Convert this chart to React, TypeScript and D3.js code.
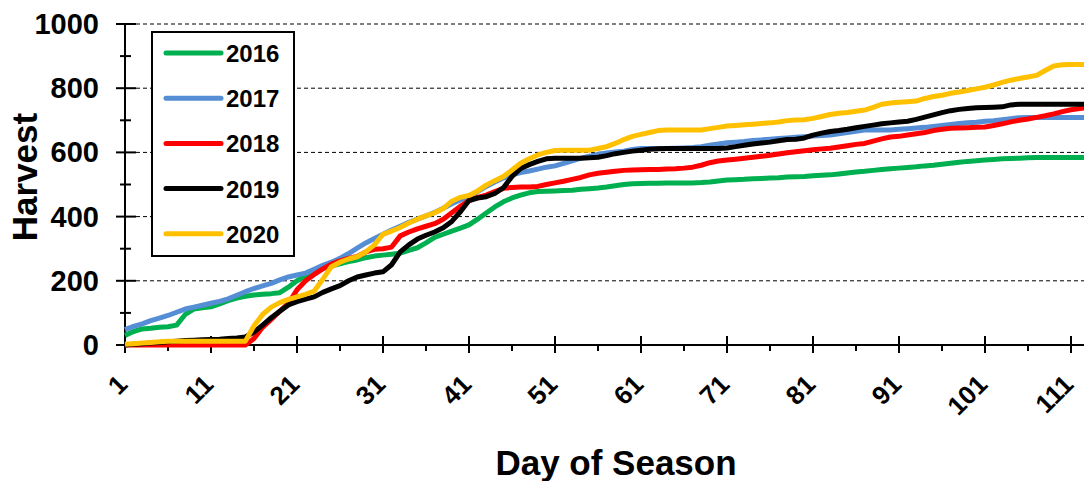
import { useEffect, useRef } from 'react'
import * as d3 from 'd3'

const W = 1084
const H = 481

const yearNames = ['2016', '2017', '2018', '2019', '2020']
const yearColors = ['#00B050', '#558ED5', '#FF0000', '#000000', '#FFC000']

const xMajorTicks = [1, 11, 21, 31, 41, 51, 61, 71, 81, 91, 101, 111]
const xMinorTicks = [6, 16, 26, 36, 46, 56, 66, 76, 86, 96, 106]
const yMajorTicks = [0, 200, 400, 600, 800, 1000]
const yMinorTicks = [100, 300, 500, 700, 900]

// cumulative harvest per day, days 1..113
const h2016 = [
  30, 42, 50, 52, 55, 57, 62, 95, 112, 116, 119, 128, 138, 146, 152, 156, 158, 160, 163, 180,
  200, 215, 228, 239, 246, 253, 260, 265, 272, 277, 280, 283, 286, 295, 303, 318, 335, 345, 355, 364,
  374, 392, 411, 430, 446, 458, 467, 474, 478, 479, 480, 481, 482, 485, 487, 489, 492, 496, 500, 502,
  503, 504, 504, 505, 505, 505, 505, 506, 508, 511, 514, 515, 516, 518, 519, 520, 521, 523, 524, 525,
  527, 529, 530, 533, 536, 539, 541, 544, 547, 549, 551, 553, 555, 558, 560, 563, 566, 569, 572, 574,
  576, 578, 580, 581, 582, 583, 584, 584, 584, 584, 584, 584, 584,
]
const h2017 = [
  48, 58, 66, 76, 84, 92, 102, 112, 118, 124, 130, 136, 144, 155, 166, 176, 184, 192, 203, 212,
  218, 224, 236, 248, 258, 270, 285, 302, 318, 332, 345, 358, 370, 382, 392, 402, 413, 426, 440, 452,
  462, 478, 494, 508, 520, 530, 537, 542, 548, 554, 558, 566, 574, 582, 588, 594, 598, 601, 604, 609,
  612, 612, 612, 612, 613, 614, 615, 618, 622, 626, 630, 632, 634, 637, 639, 641, 643, 645, 647, 649,
  651, 653, 654, 658, 662, 666, 670, 670, 670, 670, 672, 674, 676, 678, 681, 684, 687, 690, 692, 694,
  697, 699, 702, 705, 708, 709, 709, 709, 709, 709, 709, 709, 709,
]
const h2018 = [
  0, 0, 0, 0, 0, 0, 0, 0, 0, 0, 0, 0, 0, 0, 0, 20, 55, 80, 105, 130,
  172, 200, 220, 237, 252, 262, 270, 276, 290, 298, 300, 305, 340, 352, 362, 370, 378, 392, 412, 432,
  450, 460, 467, 478, 488, 491, 492, 492, 494, 500, 505, 510, 516, 522, 530, 535, 538, 541, 544, 545,
  546, 547, 547, 548, 549, 551, 554, 560, 568, 573, 576, 579, 582, 585, 588, 591, 595, 599, 602, 605,
  608, 611, 613, 617, 621, 625, 628, 635, 642, 648, 650, 654, 658, 662, 668, 672, 675, 676, 677, 678,
  679, 684, 689, 695, 700, 704, 709, 714, 720, 727, 733, 737, 740,
]
const h2019 = [
  0, 2, 4, 6, 8, 10, 12, 14, 15, 16, 17, 18, 20, 22, 25, 40, 62, 85, 105, 125,
  135, 143, 150, 164, 175, 185, 200, 212, 218, 224, 228, 250, 290, 312, 330, 342, 352, 365, 385, 415,
  450, 458, 462, 472, 490, 525, 550, 562, 572, 580, 582, 582, 582, 582, 583, 585, 590, 596, 600, 604,
  607, 610, 611, 612, 612, 612, 612, 612, 612, 612, 614, 618, 622, 626, 629, 632, 636, 640, 641, 645,
  654, 660, 665, 668, 672, 677, 681, 685, 689, 692, 695, 697, 703, 710, 717, 724, 730, 734, 737, 739,
  740, 741, 742, 748, 750, 750, 750, 750, 750, 750, 750, 750, 750,
]
const h2020 = [
  2, 4, 6, 8, 10, 12, 12, 12, 12, 12, 12, 12, 12, 12, 12, 60, 95, 118, 132, 142,
  150, 158, 168, 205, 244, 258, 268, 275, 290, 312, 345, 355, 366, 380, 392, 402, 412, 425, 448, 460,
  466, 480, 498, 512, 525, 545, 566, 580, 592, 600, 606, 607, 607, 607, 607, 612, 618, 628, 640, 650,
  656, 662, 668, 670, 670, 670, 670, 670, 674, 678, 682, 684, 686, 688, 690, 692, 695, 699, 701, 702,
  706, 712, 718, 722, 724, 728, 732, 740, 750, 754, 756, 758, 760, 768, 774, 778, 784, 788, 793, 798,
  803, 810, 818, 825, 830, 835, 840, 855, 869, 873, 874, 874, 874,
]
const seriesValues = [h2016, h2017, h2018, h2019, h2020]

const font = '"Liberation Sans", Arial, sans-serif'

export default function App() {
  const ref = useRef<SVGSVGElement | null>(null)
  useEffect(() => {
    const svg = d3.select(ref.current)
    svg.selectAll('*').remove()

    const margin = { top: 24, right: 0, bottom: 136, left: 125 }
    const innerH = H - margin.top - margin.bottom
    const x = d3.scaleLinear().domain([1, 111]).range([margin.left, 1071])
    const y = d3.scaleLinear().domain([0, 1000]).range([margin.top + innerH, margin.top])
    const y0 = y(0)

    // gridlines
    svg.append('g')
      .selectAll('line')
      .data(yMajorTicks.filter((d) => d > 0))
      .enter()
      .append('line')
      .attr('x1', x(1) + 11)
      .attr('x2', W)
      .attr('y1', (d) => y(d))
      .attr('y2', (d) => y(d))
      .attr('stroke', '#000')
      .attr('stroke-width', 1)
      .attr('stroke-dasharray', '4,3')

    // y axis
    const ya = svg.append('g')
    ya.append('line').attr('x1', x(1)).attr('x2', x(1)).attr('y1', y(1000)).attr('y2', y0).attr('stroke', '#000').attr('stroke-width', 2)
    ya.selectAll('.maj').data(yMajorTicks).enter().append('line')
      .attr('x1', x(1) - 9).attr('x2', x(1) + 11).attr('y1', (d) => y(d)).attr('y2', (d) => y(d))
      .attr('stroke', '#000').attr('stroke-width', 2)
    ya.selectAll('.min').data(yMinorTicks).enter().append('line')
      .attr('x1', x(1) - 5).attr('x2', x(1) + 6).attr('y1', (d) => y(d)).attr('y2', (d) => y(d))
      .attr('stroke', '#000').attr('stroke-width', 2)
    ya.selectAll('text').data(yMajorTicks).enter().append('text')
      .attr('x', 99).attr('y', (d) => y(d) + 10)
      .attr('text-anchor', 'end')
      .attr('font-family', font).attr('font-weight', 'bold').attr('font-size', 29)
      .text((d) => String(d))

    // x axis
    const xa = svg.append('g')
    xa.append('line').attr('x1', x(1) - 8).attr('x2', W).attr('y1', y0).attr('y2', y0).attr('stroke', '#000').attr('stroke-width', 2)
    xa.selectAll('.maj').data(xMajorTicks).enter().append('line')
      .attr('x1', (d) => x(d)).attr('x2', (d) => x(d)).attr('y1', y0 - 9).attr('y2', y0 + 8)
      .attr('stroke', '#000').attr('stroke-width', 2)
    xa.selectAll('.min').data(xMinorTicks).enter().append('line')
      .attr('x1', (d) => x(d)).attr('x2', (d) => x(d)).attr('y1', y0).attr('y2', y0 + 6)
      .attr('stroke', '#000').attr('stroke-width', 2)
    xa.selectAll('text').data(xMajorTicks).enter().append('text')
      .attr('transform', (d) => `translate(${x(d) + 4},${y0 + 41}) rotate(-45)`)
      .attr('text-anchor', 'end')
      .attr('font-family', font).attr('font-weight', 'bold').attr('font-size', 26)
      .text((d) => String(d))

    // axis titles
    svg.append('text')
      .attr('transform', `translate(37,177) rotate(-90)`)
      .attr('text-anchor', 'middle')
      .attr('font-family', font).attr('font-weight', 'bold').attr('font-size', 35)
      .text('Harvest')
    svg.append('text')
      .attr('x', 616).attr('y', 475)
      .attr('text-anchor', 'middle')
      .attr('font-family', font).attr('font-weight', 'bold').attr('font-size', 35)
      .text('Day of Season')

    // lines
    const lineGen = d3.line<number>()
      .x((_, i) => x(i + 1))
      .y((d) => y(d))
    seriesValues.forEach((vals, i) => {
      svg.append('path')
        .datum(vals)
        .attr('fill', 'none')
        .attr('stroke', yearColors[i])
        .attr('stroke-width', 5)
        .attr('stroke-linejoin', 'round')
        .attr('d', lineGen as any)
    })

    // legend
    const lg = svg.append('g')
    lg.append('rect').attr('x', 152).attr('y', 32).attr('width', 142).attr('height', 224)
      .attr('fill', '#fff').attr('stroke', '#000').attr('stroke-width', 2)
    yearNames.forEach((name, i) => {
      const ly = 53 + i * 45.2
      lg.append('line').attr('x1', 166).attr('x2', 221).attr('y1', ly).attr('y2', ly)
        .attr('stroke', yearColors[i]).attr('stroke-width', 5).attr('stroke-linecap', 'round')
      lg.append('text').attr('x', 226).attr('y', ly + 9)
        .attr('font-family', font).attr('font-weight', 'bold').attr('font-size', 24)
        .text(name)
    })
  }, [])
  return <svg ref={ref} width={W} height={H} style={{ position: 'absolute', left: 0, top: 0, background: '#fff' }} />
}
